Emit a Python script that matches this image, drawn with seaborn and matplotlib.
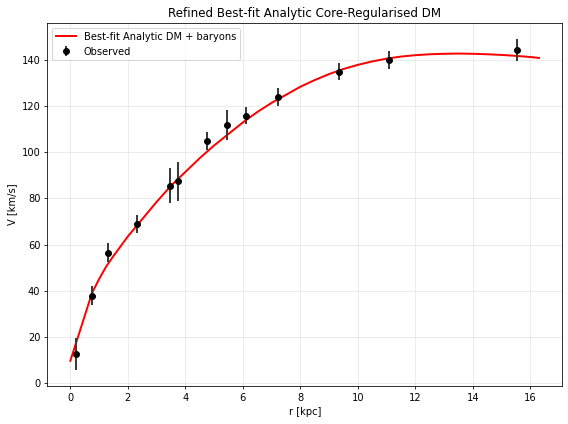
import numpy as np
import pandas as pd
import matplotlib
matplotlib.use("Agg")
import matplotlib.pyplot as plt
import seaborn as sns

# Observed data
r_obs = [0.21, 0.77, 1.32, 2.33, 3.45, 3.76, 4.77, 5.44, 6.10, 7.21, 9.34, 11.08, 15.55]
v_obs = [12.6, 37.8, 56.5, 69.0, 85.6, 87.4, 105.0, 112.0, 116.0, 124.0, 135.0, 140.0, 144.3]
v_err = [6.9, 4.0, 4.0, 3.8, 7.4, 8.3, 4.0, 6.5, 3.8, 4.0, 3.7, 4.0, 4.8]

# Best-fit curve
r_fit = [0.0, 0.25, 0.5, 0.75, 1.0, 1.25, 1.5, 2.0, 2.5, 3.0, 3.5, 4.0, 4.5, 5.0, 5.5,
         6.0, 6.5, 7.0, 7.5, 8.0, 8.5, 9.0, 9.5, 10.0, 10.5, 11.0, 11.5, 12.0, 12.5,
         13.0, 13.5, 14.0, 14.5, 15.0, 15.5, 16.0, 16.3]
v_fit = [9.5, 19.2, 29.0, 38.8, 45.0, 50.5, 55.0, 63.5, 71.0, 78.5, 85.5, 91.5, 97.5,
         103.0, 108.0, 113.0, 117.5, 121.5, 125.0, 128.5, 131.4, 134.0, 136.2, 138.0,
         139.5, 140.7, 141.6, 142.2, 142.6, 142.8, 142.9, 142.8, 142.6, 142.3, 141.9,
         141.4, 141.0]

fit_df = pd.DataFrame({"r": r_fit, "V": v_fit})

DPI = 71
fig, ax = plt.subplots(figsize=(568 / DPI, 424 / DPI), dpi=DPI)
sns.lineplot(data=fit_df, x="r", y="V", color="red", lw=2, ax=ax,
             label="Best-fit Analytic DM + baryons", zorder=2)
ax.errorbar(r_obs, v_obs, yerr=v_err, fmt="o", color="k", ecolor="0.22",
            elinewidth=2, markersize=6, label="Observed", zorder=3)
ax.set_xlim(-0.80, 17.11)
ax.set_ylim(-1.56, 156.3)
ax.grid(True, alpha=0.3)
ax.set_xlabel("r [kpc]")
ax.set_ylabel("V [km/s]")
ax.set_title("Refined Best-fit Analytic Core-Regularised DM")
ax.legend(loc="upper left")
fig.subplots_adjust(left=47.3 / 568, right=562.3 / 568,
                    top=1 - 22.7 / 424, bottom=1 - 386.3 / 424)
fig.savefig("out.png", dpi=DPI)
